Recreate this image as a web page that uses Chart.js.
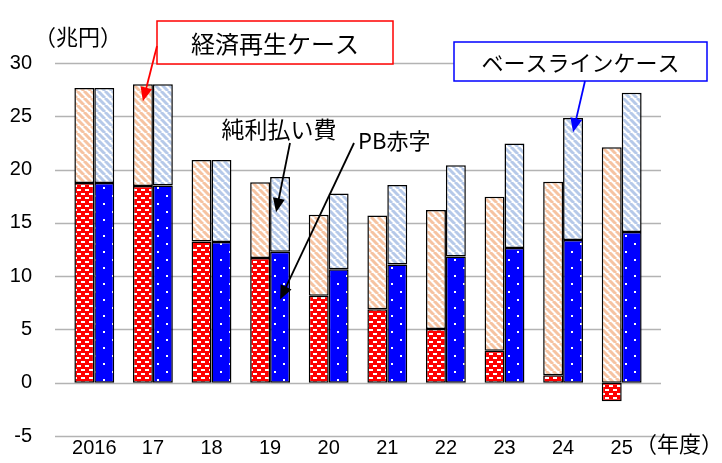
<!DOCTYPE html>
<html>
<head>
<meta charset="utf-8">
<script src="https://cdn.jsdelivr.net/npm/chart.js@4.4.1/dist/chart.umd.min.js"></script>
<style>
  html, body { margin: 0; padding: 0; background: #fff; }
  #wrap { width: 722px; height: 463px; position: relative; }
</style>
</head>
<body>
<div id="wrap"><canvas id="chart1"></canvas></div>
<script>
// fiscal years
var years = ['2016', '17', '18', '19', '20', '21', '22', '23', '24', '25'];
// 経済再生ケース
var revivalPB = [18.75, 18.45, 13.25, 11.7, 8.15, 6.9, 5.05, 3.0, 0.7, -1.75];
var revivalInterest = [8.9, 9.55, 7.65, 7.1, 7.6, 8.8, 11.15, 14.45, 18.15, 22.1];
// ベースラインケース
var baselinePB = [18.75, 18.5, 13.2, 12.3, 10.65, 11.1, 11.85, 12.65, 13.4, 14.15];
var baselineInterest = [8.9, 9.5, 7.7, 7.0, 7.1, 7.45, 8.55, 9.8, 11.45, 13.05];
// y axis
var yMin = -5, yMax = 30, yStep = 5;

var JP = '"Noto Sans CJK JP", "Noto Sans", sans-serif';
var NUM = '"Liberation Sans", Arial, sans-serif';

//Patterns
function makePattern(w, h, draw) {
	var c = document.createElement('canvas');
	c.width = w;
	c.height = h;
	var x = c.getContext('2d');
	draw(x, w, h);
	return x.createPattern(c, 'repeat');
}

function stripes(color) {
	return makePattern(7, 7, function (x, w, h) {
		x.fillStyle = '#fff';
		x.fillRect(0, 0, w, h);
		x.strokeStyle = color;
		x.lineWidth = 3;
		for (var i = -1; i <= 1; i++) {
			x.beginPath();
			x.moveTo(i * w, 0);
			x.lineTo(i * w + w, h);
			x.stroke();
		}
	});
}

var redBrick = makePattern(8, 8, function (x, w, h) {
	x.fillStyle = '#ff0000';
	x.fillRect(0, 0, w, h);
	x.fillStyle = '#fff';
	x.fillRect(1, 1, 4, 2);
	x.fillRect(5, 5, 4, 2);
	x.fillRect(0, 5, 1, 2);
});

var blueDots = makePattern(18, 16, function (x, w, h) {
	x.fillStyle = '#0000ff';
	x.fillRect(0, 0, w, h);
	x.fillStyle = '#fff';
	x.fillRect(4, 3, 2, 2);
	x.fillRect(13, 11, 2, 2);
});

var orangeStripe = stripes('#f6c3a1');
var blueStripe = stripes('#b6c9e9');

function arrow(ctx, x1, y1, x2, y2, color) {
	var ang = Math.atan2(y2 - y1, x2 - x1);
	var len = 14, half = 6;
	ctx.save();
	ctx.strokeStyle = color;
	ctx.fillStyle = color;
	ctx.lineWidth = 1.8;
	ctx.beginPath();
	ctx.moveTo(x1, y1);
	ctx.lineTo(x2 - Math.cos(ang) * len * 0.8, y2 - Math.sin(ang) * len * 0.8);
	ctx.stroke();
	ctx.beginPath();
	ctx.moveTo(x2, y2);
	ctx.lineTo(x2 - Math.cos(ang) * len + Math.sin(ang) * half, y2 - Math.sin(ang) * len - Math.cos(ang) * half);
	ctx.lineTo(x2 - Math.cos(ang) * len - Math.sin(ang) * half, y2 - Math.sin(ang) * len + Math.cos(ang) * half);
	ctx.closePath();
	ctx.fill();
	ctx.restore();
}

function labelBox(ctx, x, y, w, h, color, text, size) {
	ctx.save();
	ctx.fillStyle = '#fff';
	ctx.fillRect(x, y, w, h);
	ctx.strokeStyle = color;
	ctx.lineWidth = 1.5;
	ctx.strokeRect(x, y, w, h);
	ctx.fillStyle = '#000';
	ctx.font = size + 'px ' + JP;
	ctx.textAlign = 'center';
	ctx.textBaseline = 'middle';
	ctx.fillText(text, x + w / 2, y + h / 2 + 1);
	ctx.restore();
}

// horizontal grid lines, a bit wider than the category area
var gridPlugin = {
	id: 'gridPlugin',
	beforeDatasetsDraw: function (chart) {
		var ctx = chart.ctx, y = chart.scales.y;
		ctx.save();
		ctx.strokeStyle = '#b3b3b3';
		ctx.lineWidth = 1.5;
		for (var v = yMin; v <= yMax; v += yStep) {
			var py = Math.round(y.getPixelForValue(v)) + 0.5;
			ctx.beginPath();
			ctx.moveTo(55, py);
			ctx.lineTo(661, py);
			ctx.stroke();
		}
		ctx.restore();
	}
};

var notePlugin = {
	id: 'notePlugin',
	afterDraw: function (chart) {
		var ctx = chart.ctx, x = chart.scales.x, y = chart.scales.y;
		var bw = 20;

		ctx.save();
		ctx.fillStyle = '#000';
		ctx.font = '22px ' + JP;
		ctx.textBaseline = 'middle';
		ctx.textAlign = 'center';
		ctx.fillText('（兆円）', 78, 37);
		ctx.textAlign = 'left';
		ctx.fillText('（年度）', 635, 444);

		ctx.font = '23px ' + JP;
		ctx.textAlign = 'center';
		ctx.fillText('純利払い費', 279, 129);
		ctx.font = '22px ' + JP;
		ctx.textAlign = 'left';
		ctx.fillText('PB赤字', 358, 141);
		ctx.restore();

		labelBox(ctx, 157, 21, 236, 43, '#ff0000', '経済再生ケース', 24);
		labelBox(ctx, 454, 42, 253, 39, '#0000ff', 'ベースラインケース', 22);

		// arrows pointing into bars
		arrow(ctx, 157, 46, x.getPixelForValue(1) - bw / 2, y.getPixelForValue(26.4), '#ff0000');
		arrow(ctx, 585, 81, x.getPixelForValue(8) + bw / 2, y.getPixelForValue(23.5), '#0000ff');
		arrow(ctx, 290, 143, x.getPixelForValue(3) + bw / 2 - 4, y.getPixelForValue(16), '#000');
		arrow(ctx, 354, 143, x.getPixelForValue(3) + bw / 2, y.getPixelForValue(7.8), '#000');
	}
};

function barSet(label, data, fill, stack) {
	return {
		label: label,
		data: data,
		backgroundColor: fill,
		borderColor: '#000',
		borderWidth: 1.5,
		borderSkipped: false,
		stack: stack,
		categoryPercentage: 0.68,
		barPercentage: 1.0
	};
}

var options = {
	type: 'bar',
	data: {
		labels: years,
		datasets: [
			barSet('PB赤字（経済再生）', revivalPB, redBrick, 'revival'),
			barSet('純利払い費（経済再生）', revivalInterest, orangeStripe, 'revival'),
			barSet('PB赤字（ベースライン）', baselinePB, blueDots, 'baseline'),
			barSet('純利払い費（ベースライン）', baselineInterest, blueStripe, 'baseline')
		]
	},
	options: {
		responsive: false,
		animation: false,
		devicePixelRatio: 1,
		layout: { padding: { left: 10, right: 71, top: 63, bottom: 0 } },
		plugins: {
			legend: { display: false },
			tooltip: { enabled: false }
		},
		scales: {
			x: {
				stacked: true,
				grid: { display: false, drawTicks: false },
				border: { display: false },
				ticks: { color: '#000', font: { family: NUM, size: 20 }, padding: 0, maxRotation: 0 },
				afterFit: function (s) { s.height = 27; }
			},
			y: {
				stacked: true,
				min: yMin,
				max: yMax,
				grid: { display: false, drawTicks: false },
				border: { display: false },
				ticks: { stepSize: yStep, color: '#000', font: { family: NUM, size: 20 }, padding: 33 },
				afterFit: function (s) {
					s.width = 55;
					s.paddingTop = 0;
					s.paddingBottom = 0;
				}
			}
		}
	},
	plugins: [gridPlugin, notePlugin]
};

var canvas = document.getElementById('chart1');
canvas.width = 722;
canvas.height = 463;
var chart = new Chart(canvas, options);
</script>
</body>
</html>
